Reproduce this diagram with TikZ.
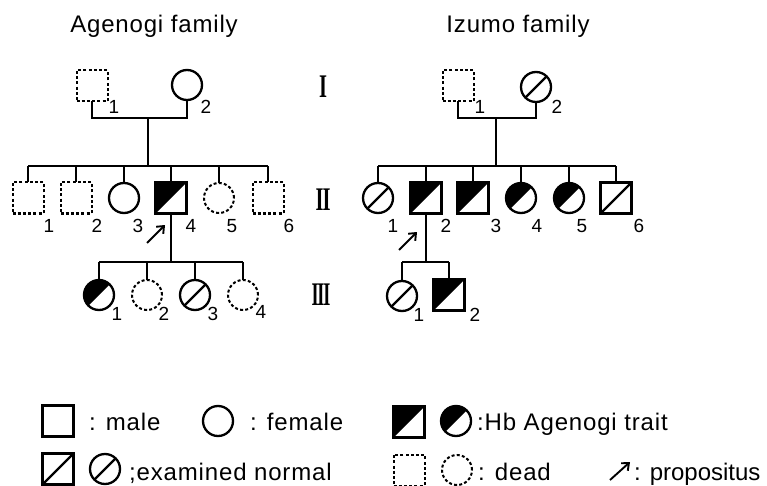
\documentclass[tikz,border=0pt]{standalone}
\usepackage{fontspec}
\setmainfont{Liberation Sans}[LetterSpace=3.5]
\newfontfamily\romfont{Liberation Serif}
\usetikzlibrary{arrows.meta}

\tikzset{
  ln/.style={line width=2pt},
  ind/.style={draw, line width=2.3pt, inner sep=0pt, outer sep=0pt},
  male/.style={ind, rectangle, minimum size=31pt},
  female/.style={ind, circle, minimum size=30pt},
  deadline/.style={dash pattern=on 3pt off 2.2pt, line width=2pt},
  hbtrait/.style={path picture={\fill (path picture bounding box.south west) -- (path picture bounding box.north west) -- (path picture bounding box.north east) -- cycle;}},
  exnormal/.style={path picture={\draw[line width=2.2pt] (path picture bounding box.south west) -- (path picture bounding box.north east);}},
  numlab/.style={font=\fontsize{19}{19}\selectfont, inner sep=0pt},
  genlab/.style={font=\romfont\bfseries\fontsize{33}{33}\selectfont, inner sep=0pt},
  ttl/.style={font=\fontsize{24}{24}\selectfont, anchor=base, inner sep=0pt},
  legtext/.style={font=\fontsize{24}{24}\selectfont, anchor=base west, inner sep=0pt},
  prop/.style={line width=1.9pt, -{Straight Barb[length=6pt,width=10pt]}},
}

\begin{document}
\begin{tikzpicture}[x=1pt,y=-1pt]
\useasboundingbox (0,0) rectangle (767,486);

% ---------------- Agenogi family ----------------
\node[ttl] (tA) at (154,33) {Agenogi family};

% generation I
\node[male,deadline] (AI1) at (92,86) {};
\node[female] (AI2) at (187,85) {};
\node[numlab] (nAI1) at (114,107) {1};
\node[numlab] (nAI2) at (206,107) {2};
\coordinate (mA) at (148,118);
\coordinate (sA) at (148,166);
\draw[ln] (AI1.south) |- (mA) -| (AI2.south);
\draw[ln] (mA) -- (sA);

% generation II
\node[male,deadline] (AII1) at (28,198) {};
\node[male,deadline] (AII2) at (76,198) {};
\node[female] (AII3) at (124,198) {};
\node[male,hbtrait] (AII4) at (171,198) {};
\node[female,deadline] (AII5) at (219,198) {};
\node[male,deadline] (AII6) at (268,198) {};
\draw[ln] (AII1.north |- sA) -- (AII6.north |- sA);
\foreach \k in {1,...,6} \draw[ln] (AII\k.north) -- (AII\k.north |- sA);
\node[numlab] (nAII1) at (49,226) {1};
\node[numlab] (nAII2) at (97,226) {2};
\node[numlab] (nAII3) at (138,226) {3};
\node[numlab] (nAII4) at (191,226) {4};
\node[numlab] (nAII5) at (232,226) {5};
\node[numlab] (nAII6) at (289,226) {6};
\coordinate (pA0) at (147,243);
\coordinate (pA1) at (165,225);
\draw[prop] (pA0) -- (pA1);

% generation III
\coordinate (sAIII) at (171,262);
\draw[ln] (AII4.south) -- (sAIII);
\node[female,hbtrait] (AIII1) at (99,295) {};
\node[female,deadline] (AIII2) at (147,295) {};
\node[female,exnormal] (AIII3) at (195,295) {};
\node[female,deadline] (AIII4) at (243,295) {};
\draw[ln] (AIII1.north |- sAIII) -- (AIII4.north |- sAIII);
\foreach \k in {1,...,4} \draw[ln] (AIII\k.north) -- (AIII\k.north |- sAIII);
\node[numlab] (nAIII1) at (117,314) {1};
\node[numlab] (nAIII2) at (164,314) {2};
\node[numlab] (nAIII3) at (213,314) {3};
\node[numlab] (nAIII4) at (261,312) {4};

% generation numerals
\node[genlab] (gI) at (323,87) {\scalebox{0.62}[1]{I}};
\node[genlab] (gII) at (323,200) {\scalebox{0.62}[1]{I\kern-1.5pt I}};
\node[genlab] (gIII) at (321,295) {\scalebox{0.55}[1]{I\kern-2pt I\kern-2pt I}};

% ---------------- Izumo family ----------------
\node[ttl] (tZ) at (518,33) {Izumo family};

% generation I
\node[male,deadline] (ZI1) at (458,86) {};
\node[female,exnormal] (ZI2) at (536,87) {};
\node[numlab] (nZI1) at (480,107) {1};
\node[numlab] (nZI2) at (557,107) {2};
\coordinate (mZ) at (496,118);
\coordinate (sZ) at (496,166);
\draw[ln] (ZI1.south) |- (mZ) -| (ZI2.south);
\draw[ln] (mZ) -- (sZ);

% generation II
\node[female,exnormal] (ZII1) at (378,198) {};
\node[male,hbtrait] (ZII2) at (426,198) {};
\node[male,hbtrait] (ZII3) at (473,198) {};
\node[female,hbtrait] (ZII4) at (521,198) {};
\node[female,hbtrait] (ZII5) at (569,198) {};
\node[male,exnormal] (ZII6) at (616,198) {};
\draw[ln] (ZII1.north |- sZ) -- (ZII6.north |- sZ);
\foreach \k in {1,...,6} \draw[ln] (ZII\k.north) -- (ZII\k.north |- sZ);
\node[numlab] (nZII1) at (393,226) {1};
\node[numlab] (nZII2) at (446,226) {2};
\node[numlab] (nZII3) at (496,226) {3};
\node[numlab] (nZII4) at (537,226) {4};
\node[numlab] (nZII5) at (582,226) {5};
\node[numlab] (nZII6) at (639,226) {6};
\coordinate (pZ0) at (399,250);
\coordinate (pZ1) at (417,232);
\draw[prop] (pZ0) -- (pZ1);

% generation III
\coordinate (sZIII) at (426,262);
\draw[ln] (ZII2.south) -- (sZIII);
\node[female,exnormal] (ZIII1) at (402,296) {};
\node[male,hbtrait] (ZIII2) at (449,295) {};
\draw[ln] (ZIII1.north |- sZIII) -- (ZIII2.north |- sZIII);
\foreach \k in {1,2} \draw[ln] (ZIII\k.north) -- (ZIII\k.north |- sZIII);
\node[numlab] (nZIII1) at (419,315) {1};
\node[numlab] (nZIII2) at (475,315) {2};

% ---------------- legend ----------------
\node[male] (Lm) at (58,421) {};
\node[legtext] (Lmt) at (89,430) {: male};
\node[female] (Lf) at (218,421) {};
\node[legtext] (Lft) at (250,430) {: female};
\node[male,hbtrait] (Lt) at (409,422) {};
\node[female,hbtrait] (Ltf) at (456,421) {};
\node[legtext] (Ltt) at (477,430) {:Hb Agenogi trait};

\node[male,exnormal] (Ln) at (58,469) {};
\node[female,exnormal] (Lnf) at (105,469) {};
\node[legtext] (Lnt) at (129,480) {;examined normal};
\node[male,deadline] (Ld) at (409,470) {};
\node[female,deadline] (Ldf) at (457,470) {};
\node[legtext] (Ldt) at (478,480) {: dead};
\coordinate (Lp0) at (610,480);
\coordinate (Lp1) at (630,462);
\draw[prop] (Lp0) -- (Lp1);
\node[legtext] (Lpt) at (634,480) {\addfontfeature{LetterSpace=0}: propositus};
\end{tikzpicture}
\end{document}
